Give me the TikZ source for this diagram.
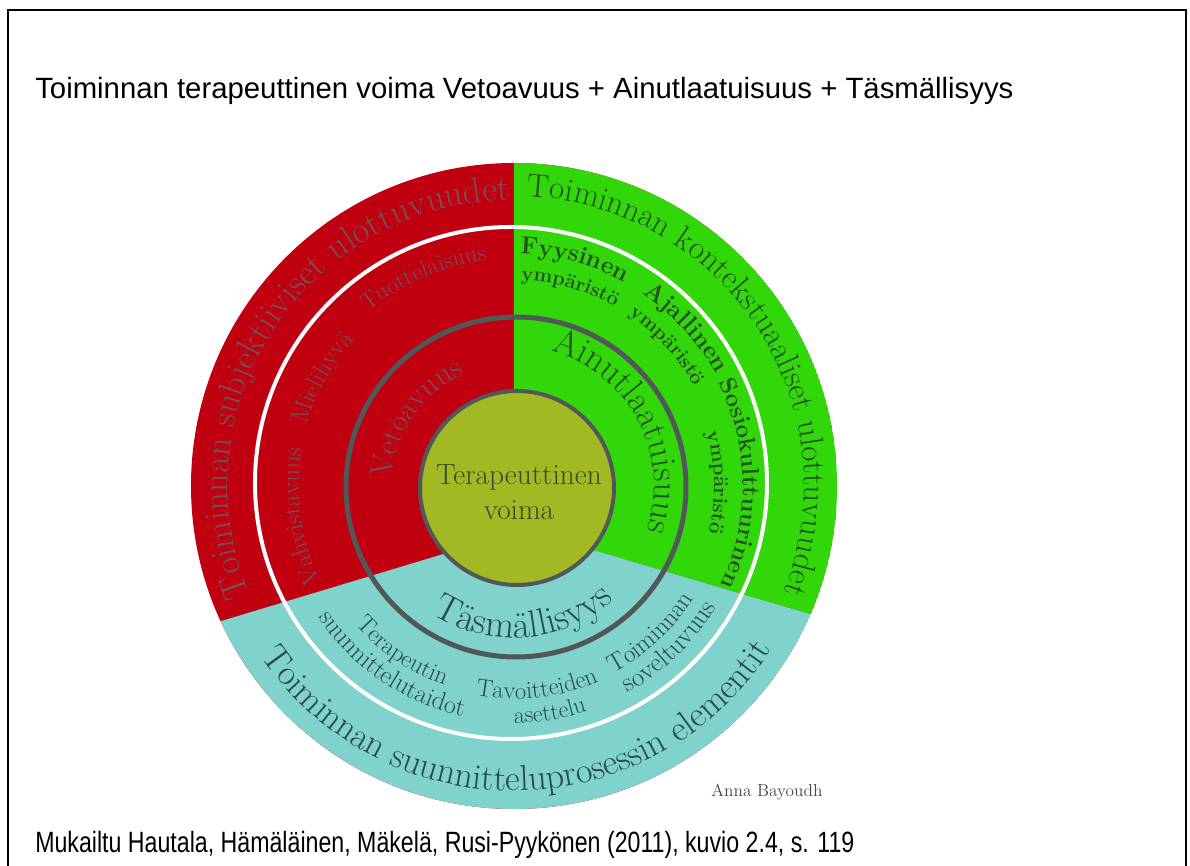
\documentclass[tikz,border=0pt]{standalone}
\usepackage{fontspec}
\newfontfamily\arialfam{Liberation Sans}
\usetikzlibrary{decorations.text}
\definecolor{cred}{RGB}{192,0,16}
\definecolor{cgreen}{RGB}{50,215,10}
\definecolor{cteal}{RGB}{128,210,204}
\definecolor{colive}{RGB}{163,185,36}
\definecolor{cring}{RGB}{80,88,88}
\definecolor{tred}{RGB}{118,80,84}
\definecolor{tgreen}{RGB}{38,82,38}
\definecolor{tteal}{RGB}{40,75,80}
\definecolor{tcenter}{RGB}{60,72,45}
\definecolor{tauthor}{RGB}{70,70,70}
% clockwise arc text (letter tops outward)
\newcommand\arcCW[5]{\path[decorate,decoration={text along path,text align=center,text={|#4|#5}}] ({#1+#3}:#2) arc[start angle={#1+#3}, end angle={#1-#3}, radius=#2];}
% counter-clockwise arc text (letter tops inward)
\newcommand\arcCCW[5]{\path[decorate,decoration={text along path,text align=center,text={|#4|#5}}] ({#1-#3}:#2) arc[start angle={#1-#3}, end angle={#1+#3}, radius=#2];}
\tikzset{
  plaintext/.style={anchor=base west, inner sep=0pt, font=\arialfam\fontsize{22}{26}\selectfont},
  coretext/.style={anchor=base, inner sep=0pt, text=tcenter, font=\fontsize{22}{25}\selectfont}
}
\begin{document}
\begin{tikzpicture}[x=0.75pt,y=0.75pt]
\useasboundingbox (-514,-380) rectangle (676,486);
% frame
\draw[line width=1.5pt] (-506,-400) -- (-506,476) -- (672,476) -- (672,-400);
% texts
\node[plaintext] (title) at (-479,387) {Toiminnan terapeuttinen voima Vetoavuus + Ainutlaatuisuus + Täsmällisyys};
\node[plaintext] (caption) at (-479,-367) {\scalebox{0.79}[1]{Mukailtu Hautala, Hämäläinen, Mäkelä, Rusi-Pyykönen (2011), kuvio 2.4, s. 119}};
% disk
\begin{scope}
\clip (0,0) circle (323);
\fill[cred] (0,0) circle (323);
\fill[cgreen] (0,400) -- (0,-55) -- (70,-61.3) -- (400,-158.9) -- (400,400) -- cycle;
\fill[cteal] (-400,-167.4) -- (-60,-64.8) -- (0,-55) -- (70,-61.3) -- (400,-158.9) -- (400,-400) -- (-400,-400) -- cycle;
\end{scope}
\draw[white, line width=3pt] (-3,3) circle (256);
\draw[cring, line width=3.75pt] (2,-1) circle (170);
\filldraw[fill=colive, draw=cring, line width=3pt] (3,-2) circle (97);
% outer band
\arcCW{146.5}{286}{85}{\color{tred}\fontsize{27}{27}\selectfont}{Toiminnan subjektiiviset ulottuvuudet}
\arcCW{33}{290}{85}{\color{tgreen}\fontsize{24.8}{24.8}\selectfont}{Toiminnan kontekstuaaliset ulottuvuudet}
\arcCCW{270.8}{305}{85}{\color{tteal}\fontsize{27}{27}\selectfont}{Toiminnan suunnitteluprosessin elementit}
% red middle band
\arcCW{188}{215}{60}{\color{tred}\fontsize{18.75}{18.75}\selectfont}{Vahvistavuus}
\arcCW{150.5}{216}{60}{\color{tred}\fontsize{18.75}{18.75}\selectfont}{Mielihyvä}
\arcCW{113.4}{227}{60}{\color{tred}\fontsize{18}{18}\selectfont}{Tuottelaisuus}
\arcCW{145}{122}{80}{\color{tred}\fontsize{23.5}{23.5}\selectfont}{Vetoavuus}
% green middle band
\arcCW{75}{232}{50}{\color{tgreen}\bfseries\fontsize{18.5}{18.5}\selectfont}{Fyysinen}
\arcCW{74.3}{206}{50}{\color{tgreen}\bfseries\fontsize{15}{15}\selectfont}{ympäristö}
\arcCW{42.6}{231}{50}{\color{tgreen}\bfseries\fontsize{18.5}{18.5}\selectfont}{Ajallinen}
\arcCW{42.5}{206}{50}{\color{tgreen}\bfseries\fontsize{15}{15}\selectfont}{ympäristö}
\arcCW{0.6}{229}{60}{\color{tgreen}\bfseries\fontsize{18}{18}\selectfont}{Sosiokulttuurinen}
\arcCW{1}{200}{50}{\color{tgreen}\bfseries\fontsize{15.5}{15.5}\selectfont}{ympäristö}
\arcCW{28}{140}{80}{\color{tgreen}\fontsize{27}{27}\selectfont}{Ainutlaatuisuus}
% teal middle band
\arcCCW{274.3}{152}{80}{\color{tteal}\fontsize{28.5}{28.5}\selectfont}{Täsmällisyys}
\arcCCW{236}{211}{50}{\color{tteal}\fontsize{18.5}{18.5}\selectfont}{Terapeutin}
\arcCCW{235.7}{236}{50}{\color{tteal}\fontsize{19.5}{19.5}\selectfont}{suunnittelutaidot}
\arcCCW{276.6}{213}{50}{\color{tteal}\fontsize{18.5}{18.5}\selectfont}{Tavoitteiden}
\arcCCW{279}{237}{50}{\color{tteal}\fontsize{18}{18}\selectfont}{asettelu}
\arcCCW{313}{212}{50}{\color{tteal}\fontsize{19}{19}\selectfont}{Toiminnan}
\arcCCW{314}{236}{50}{\color{tteal}\fontsize{20}{20}\selectfont}{soveltuvuus}
% core
\node[coretext] (core1) at (5,1) {Terapeuttinen};
\node[coretext] (core2) at (5,-34) {voima};
\node[anchor=base, inner sep=0pt, text=tauthor, font=\fontsize{13}{15}\selectfont] (author) at (253,-311) {Anna Bayoudh};
\end{tikzpicture}
\end{document}
